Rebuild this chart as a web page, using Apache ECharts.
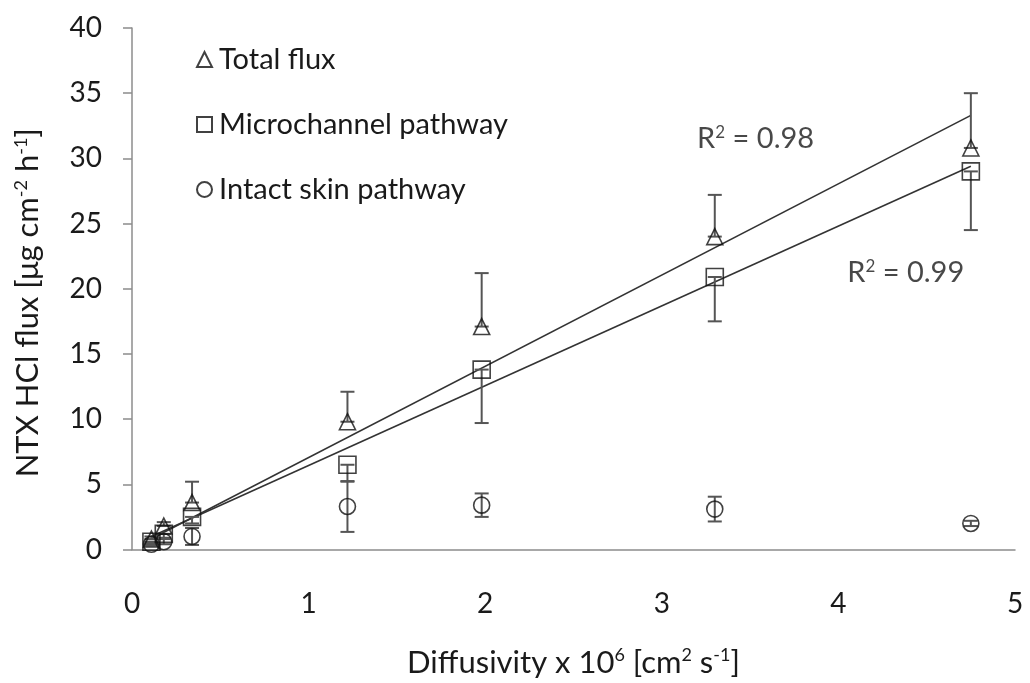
<!DOCTYPE html>
<html>
<head>
<meta charset="utf-8">
<script src="https://cdn.jsdelivr.net/npm/echarts@6/dist/echarts.min.js"></script>
<style>
html,body{margin:0;padding:0;background:#fff;}
#chart{width:1030px;height:683px;}
</style>
</head>
<body>
<div id="chart"></div>
<script>
// ---- data ----
const xDiffusivity   = [0.11, 0.18, 0.34, 1.22, 1.98, 3.30, 4.75];
const totalFlux      = [0.8, 1.8, 3.6, 9.8, 17.1, 24.0, 30.8];
const totalErrPlus   = [0.2, 0.3, 1.6, 2.3, 4.1, 3.2, 4.2];
const microFlux      = [0.6, 1.2, 2.5, 6.5, 13.8, 20.9, 29.0];
const microErrMinus  = [0.2, 0.3, 0.5, 1.3, 4.1, 3.4, 4.5];
const intactFlux     = [0.4, 0.6, 1.0, 3.3, 3.4, 3.1, 2.0];
const intactErr      = [0.1, 0.2, 0.65, 1.95, 0.9, 0.95, 0.2];
const trendTotalX    = [0.11, 4.75];
const trendTotalY    = [0.82, 33.3];
const trendMicroX    = [0.11, 4.75];
const trendMicroY    = [1.0, 29.4];
const seriesNames    = ['Total flux', 'Microchannel pathway', 'Intact skin pathway'];
const r2Labels       = ['0.98', '0.99'];
const r2Pos          = [[3.2, 31.5], [4.05, 21.2]];
const yTicks = {min: 0, max: 40, interval: 5};
const xTicks = {min: 0, max: 5, interval: 1};

const FONT = 'Lato';
const TXT = '#1a1a1a';
const chart = echarts.init(document.getElementById('chart'), null, {renderer: 'canvas'});

function pts(xs, ys) { return xs.map((x, i) => [x, ys[i]]); }
function errData(xs, ys, minus, plus) {
  return xs.map((x, i) => [x, ys[i] - (minus ? minus[i] : 0), ys[i] + (plus ? plus[i] : 0)]);
}
function errRender(params, api) {
  const x = api.value(0), lo = api.value(1), hi = api.value(2);
  const pLo = api.coord([x, lo]), pHi = api.coord([x, hi]);
  const cw = 7;
  const style = {stroke: '#555', lineWidth: 2};
  const children = [
    {type: 'line', shape: {x1: pLo[0], y1: pLo[1], x2: pHi[0], y2: pHi[1]}, style: style}
  ];
  if (Math.abs(pLo[1] - pHi[1]) > 1) {
    children.push({type: 'line', shape: {x1: pLo[0] - cw, y1: pLo[1], x2: pLo[0] + cw, y2: pLo[1]}, style: style});
    children.push({type: 'line', shape: {x1: pHi[0] - cw, y1: pHi[1], x2: pHi[0] + cw, y2: pHi[1]}, style: style});
  }
  return {type: 'group', children: children};
}
const markerStyle = {color: 'rgba(255,255,255,0)', borderColor: '#111', borderWidth: 1.6};
const supStyle = {fontFamily: FONT, fontSize: 18, color: TXT, verticalAlign: 'top', padding: [0, 0, 14, 0]};

const option = {
  animation: false,
  backgroundColor: '#fff',
  textStyle: {fontFamily: FONT},
  grid: {left: 132, right: 15, top: 28, bottom: 130, containLabel: false},
  legend: {
    data: seriesNames,
    orient: 'vertical',
    left: 191,
    top: 40,
    itemGap: 36,
    itemWidth: 15,
    itemHeight: 15,
    textStyle: {fontFamily: FONT, fontSize: 29, color: TXT, padding: [0, 0, 0, 2]},
    selectedMode: false
  },
  xAxis: {
    type: 'value',
    min: xTicks.min, max: xTicks.max, interval: xTicks.interval,
    name: 'Diffusivity x 10{sup|6} [cm{sup|2} s{sup|-1}]',
    nameLocation: 'middle',
    nameGap: 97,
    nameTextStyle: {fontFamily: FONT, fontSize: 31, color: TXT, rich: {sup: supStyle}},
    axisLine: {show: true, lineStyle: {color: '#8c8c8c', width: 1.5}},
    axisTick: {show: false},
    splitLine: {show: false},
    axisLabel: {fontFamily: FONT, fontSize: 28, color: TXT, margin: 40}
  },
  yAxis: {
    type: 'value',
    min: yTicks.min, max: yTicks.max, interval: yTicks.interval,
    name: 'NTX HCl flux [μg cm{sup|-2} h{sup|-1}]',
    nameLocation: 'middle',
    nameGap: 88,
    nameTextStyle: {fontFamily: FONT, fontSize: 31, color: TXT, padding: [0, 28, 0, 0], rich: {sup: supStyle}},
    axisLine: {show: true, lineStyle: {color: '#8c8c8c', width: 1.5}},
    axisTick: {show: true, inside: false, length: 9, lineStyle: {color: '#8c8c8c', width: 1.5}},
    splitLine: {show: false},
    axisLabel: {fontFamily: FONT, fontSize: 28, color: TXT, margin: 30}
  },
  series: [
    {
      name: 'trendTotal', type: 'line', data: pts(trendTotalX, trendTotalY),
      symbol: 'none', lineStyle: {color: '#333', width: 1.6}, silent: true, z: 1
    },
    {
      name: 'trendMicro', type: 'line', data: pts(trendMicroX, trendMicroY),
      symbol: 'none', lineStyle: {color: '#333', width: 1.6}, silent: true, z: 1
    },
    {name: 'errTotal', type: 'custom', renderItem: errRender, data: errData(xDiffusivity, totalFlux, null, totalErrPlus), z: 2, silent: true},
    {name: 'errMicro', type: 'custom', renderItem: errRender, data: errData(xDiffusivity, microFlux, microErrMinus, null), z: 2, silent: true},
    {name: 'errIntact', type: 'custom', renderItem: errRender, data: errData(xDiffusivity, intactFlux, intactErr, intactErr), z: 2, silent: true},
    {
      name: seriesNames[0], type: 'scatter', data: pts(xDiffusivity, totalFlux),
      symbol: 'triangle', symbolSize: 16, itemStyle: markerStyle, z: 3
    },
    {
      name: seriesNames[1], type: 'scatter', data: pts(xDiffusivity, microFlux),
      symbol: 'rect', symbolSize: 17, itemStyle: markerStyle, z: 3
    },
    {
      name: seriesNames[2], type: 'scatter', data: pts(xDiffusivity, intactFlux),
      symbol: 'circle', symbolSize: 16, itemStyle: markerStyle, z: 3
    },
    {
      name: 'r2', type: 'scatter', symbolSize: 0, silent: true,
      data: r2Pos.map((p, i) => ({value: p, label: {formatter: 'R{sup|2} = ' + r2Labels[i]}})),
      label: {
        show: true, position: 'right', distance: 0,
        fontFamily: FONT, fontSize: 29, color: TXT,
        rich: {sup: {fontFamily: FONT, fontSize: 17, color: TXT, verticalAlign: 'top', padding: [0, 0, 13, 0]}}
      },
      z: 4
    }
  ]
};
chart.setOption(option);
</script>
</body>
</html>
